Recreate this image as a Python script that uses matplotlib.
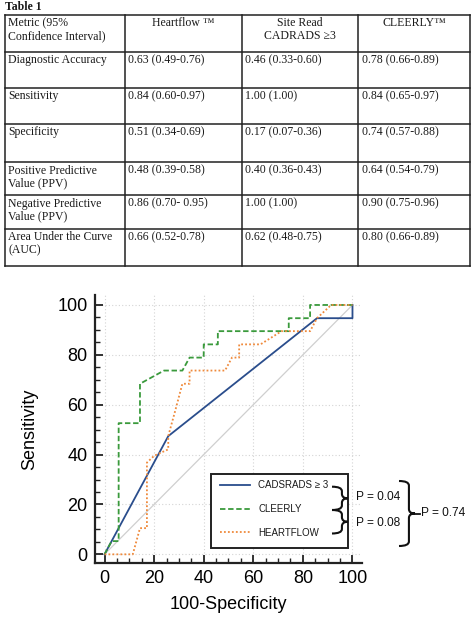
import matplotlib
matplotlib.use("Agg")
import matplotlib.pyplot as plt
from matplotlib.path import Path
from matplotlib.patches import PathPatch, Rectangle
from matplotlib.ticker import MultipleLocator

plt.rcParams['font.family'] = ['Liberation Sans', 'DejaVu Sans']

""" Table data """
table_title = "Table 1"
col_headers = ["Metric (95%\nConfidence Interval)", "Heartflow \u2122",
               "Site Read\nCADRADS \u22653", "CLEERLY\u2122"]
metrics = ["Diagnostic Accuracy", "Sensitivity", "Specificity",
           "Positive Predictive\nValue (PPV)", "Negative Predictive\nValue (PPV)",
           "Area Under the Curve\n(AUC)"]
heartflow_vals = ["0.63 (0.49-0.76)", "0.84 (0.60-0.97)", "0.51 (0.34-0.69)",
                  "0.48 (0.39-0.58)", "0.86 (0.70- 0.95)", "0.66 (0.52-0.78)"]
site_read_vals = ["0.46 (0.33-0.60)", "1.00 (1.00)", "0.17 (0.07-0.36)",
                  "0.40 (0.36-0.43)", "1.00 (1.00)", "0.62 (0.48-0.75)"]
cleerly_vals = ["0.78 (0.66-0.89)", "0.84 (0.65-0.97)", "0.74 (0.57-0.88)",
                "0.64 (0.54-0.79)", "0.90 (0.75-0.96)", "0.80 (0.66-0.89)"]

""" ROC data: 100-Specificity, Sensitivity """
cads_x = [0, 25.7, 85.7, 100, 100]
cads_y = [0, 47.4, 94.7, 94.7, 100]
cleerly_x = [0, 2.9, 5.7, 5.7, 14.3, 14.3, 24.0, 31.4, 34.3, 40.0, 40.0, 45.7,
             45.7, 74.3, 74.3, 82.9, 82.9, 100]
cleerly_y = [0, 5.3, 5.3, 52.6, 52.6, 68.4, 73.7, 73.7, 78.9, 78.9, 84.2, 84.2,
             89.5, 89.5, 94.7, 94.7, 100, 100]
heartflow_x = [0, 11.4, 14.3, 17.1, 17.1, 20.0, 25.7, 25.7, 28.6, 31.4, 34.3,
               34.3, 48.6, 51.4, 54.3, 54.3, 62.9, 71.4, 82.9, 85.7, 91.4, 100]
heartflow_y = [0, 0, 10.5, 10.5, 36.8, 39.5, 42.1, 47.4, 57.9, 68.4, 68.4,
               73.7, 73.7, 78.9, 78.9, 84.2, 84.2, 89.5, 89.5, 94.7, 100, 100]
series_labels = ["CADSRADS \u2265 3", "CLEERLY", "HEARTFLOW"]
p_labels = ["P = 0.04", "P = 0.08", "P = 0.74"]

W, H = 474, 617
fig = plt.figure(figsize=(W / 100, H / 100), dpi=100)

# overlay in pixel coords (y down) for table + braces
ov = fig.add_axes([0, 0, 1, 1])
ov.set_xlim(0, W)
ov.set_ylim(H, 0)
ov.axis('off')
ov.set_zorder(5)

""" Table """
col_edges = [5, 124.7, 241.7, 358.3, 470]
row_edges = [15, 52, 87.5, 124, 162, 195, 229, 266]
tcolor = '#1a1a1a'
tfont = dict(family=['Liberation Serif', 'DejaVu Serif'], fontsize=8.5, color=tcolor,
             linespacing=1.1)

ov.text(5, 1.5, table_title, va='top', ha='left', fontweight='bold', **tfont)
for y in row_edges:
    ov.plot([col_edges[0], col_edges[-1]], [y, y], color='#222222', lw=1.1)
for x in col_edges:
    ov.plot([x, x], [row_edges[0], row_edges[-1]], color='#222222', lw=1.1)

for j, head in enumerate(col_headers):
    if j == 0:
        ov.text(col_edges[0] + 3.5, row_edges[0] + 2.5, head, va='top', ha='left', **tfont)
    else:
        ov.text((col_edges[j] + col_edges[j + 1]) / 2, row_edges[0] + 2.5, head,
                va='top', ha='center', multialignment='center', **tfont)

columns = [metrics, heartflow_vals, site_read_vals, cleerly_vals]
for j, col in enumerate(columns):
    for i, txt in enumerate(col):
        ov.text(col_edges[j] + 3.5, row_edges[i + 1] + 2.5, txt, va='top', ha='left', **tfont)

""" ROC chart """
ax = fig.add_axes([94.6 / W, 1 - 563.3 / H, (362.4 - 94.6) / W, (563.3 - 295) / H])
ax.set_xlim(-4, 104)
ax.set_ylim(-3.6, 104)

ax.plot([0, 100], [0, 100], color='#cfcfcf', lw=0.9, zorder=1)
ax.plot(cads_x, cads_y, color='#2a4d8c', lw=1.3, label=series_labels[0], zorder=3)
ax.plot(cleerly_x, cleerly_y, color='#3a9a3c', lw=1.3, ls=(0, (3, 1.5)),
        label=series_labels[1], zorder=3)
ax.plot(heartflow_x, heartflow_y, color='#ef8a3c', lw=1.3, ls=(0, (1, 1.2)),
        label=series_labels[2], zorder=3)

ax.xaxis.set_major_locator(MultipleLocator(20))
ax.yaxis.set_major_locator(MultipleLocator(20))
ax.xaxis.set_minor_locator(MultipleLocator(5))
ax.yaxis.set_minor_locator(MultipleLocator(5))
ax.grid(True, which='major', color='#d4d4d4', ls=(0, (1, 2)), lw=0.8)
ax.set_axisbelow(True)
for s in ['top', 'right']:
    ax.spines[s].set_visible(False)
for s in ['left', 'bottom']:
    ax.spines[s].set_linewidth(1.6)
    ax.spines[s].set_color('#222222')
ax.tick_params(which='major', direction='in', length=6, width=1.3, labelsize=13,
               color='#222222', pad=5)
ax.tick_params(which='minor', direction='in', length=3.5, width=1.0, color='#222222')
ax.set_xlabel("100-Specificity", fontsize=13, labelpad=6)
ax.set_ylabel("Sensitivity", fontsize=13, labelpad=14)

# legend box
box = Rectangle((211 / W, 1 - 548 / H), (348 - 211) / W, (548 - 474) / H,
                transform=fig.transFigure, facecolor='white', edgecolor='#222222',
                lw=1.4, zorder=4, clip_on=False)
ax.add_artist(box)
leg = ax.legend(loc='upper left', bbox_to_anchor=(220 / W, 1 - 480.5 / H),
                bbox_transform=fig.transFigure, frameon=False, borderpad=0,
                borderaxespad=0, handlelength=3.1, handletextpad=0.85,
                labelspacing=1.4, prop=dict(size=7.0))
for t in leg.get_texts():
    t.set_color('#1a1a1a')
leg.set_zorder(6)


def brace(x0, y0, y1, w, tail=0):
    ym = (y0 + y1) / 2
    xm = x0 + w * 0.62
    xt = x0 + w
    r = min(4.5, (y1 - y0) / 4)
    verts = [(x0, y0), (xm, y0), (xm, y0 + r),
             (xm, ym - r),
             (xm, ym), (xt, ym),
             (xm, ym), (xm, ym + r),
             (xm, y1 - r),
             (xm, y1), (x0, y1)]
    codes = [Path.MOVETO, Path.CURVE3, Path.CURVE3, Path.LINETO, Path.CURVE3,
             Path.CURVE3, Path.CURVE3, Path.CURVE3, Path.LINETO, Path.CURVE3, Path.CURVE3]
    ov.add_patch(PathPatch(Path(verts, codes), fill=False, lw=1.5, edgecolor='#111111'))
    if tail:
        ov.plot([xt, xt + tail], [ym, ym], color='#111111', lw=1.3)
    return xt + tail, ym


pfont = dict(fontsize=8.6, color='#111111', va='center', ha='left')
brace(332, 486.7, 510, 16)
ov.text(356.5, 497.5, p_labels[0], **pfont)
brace(332, 510, 533.5, 16)
ov.text(356.5, 523, p_labels[1], **pfont)
xe, ye = brace(399, 481, 546, 16, tail=5)
ov.text(xe + 1, ye, p_labels[2], **pfont)

fig.savefig("out.png", dpi=100)
